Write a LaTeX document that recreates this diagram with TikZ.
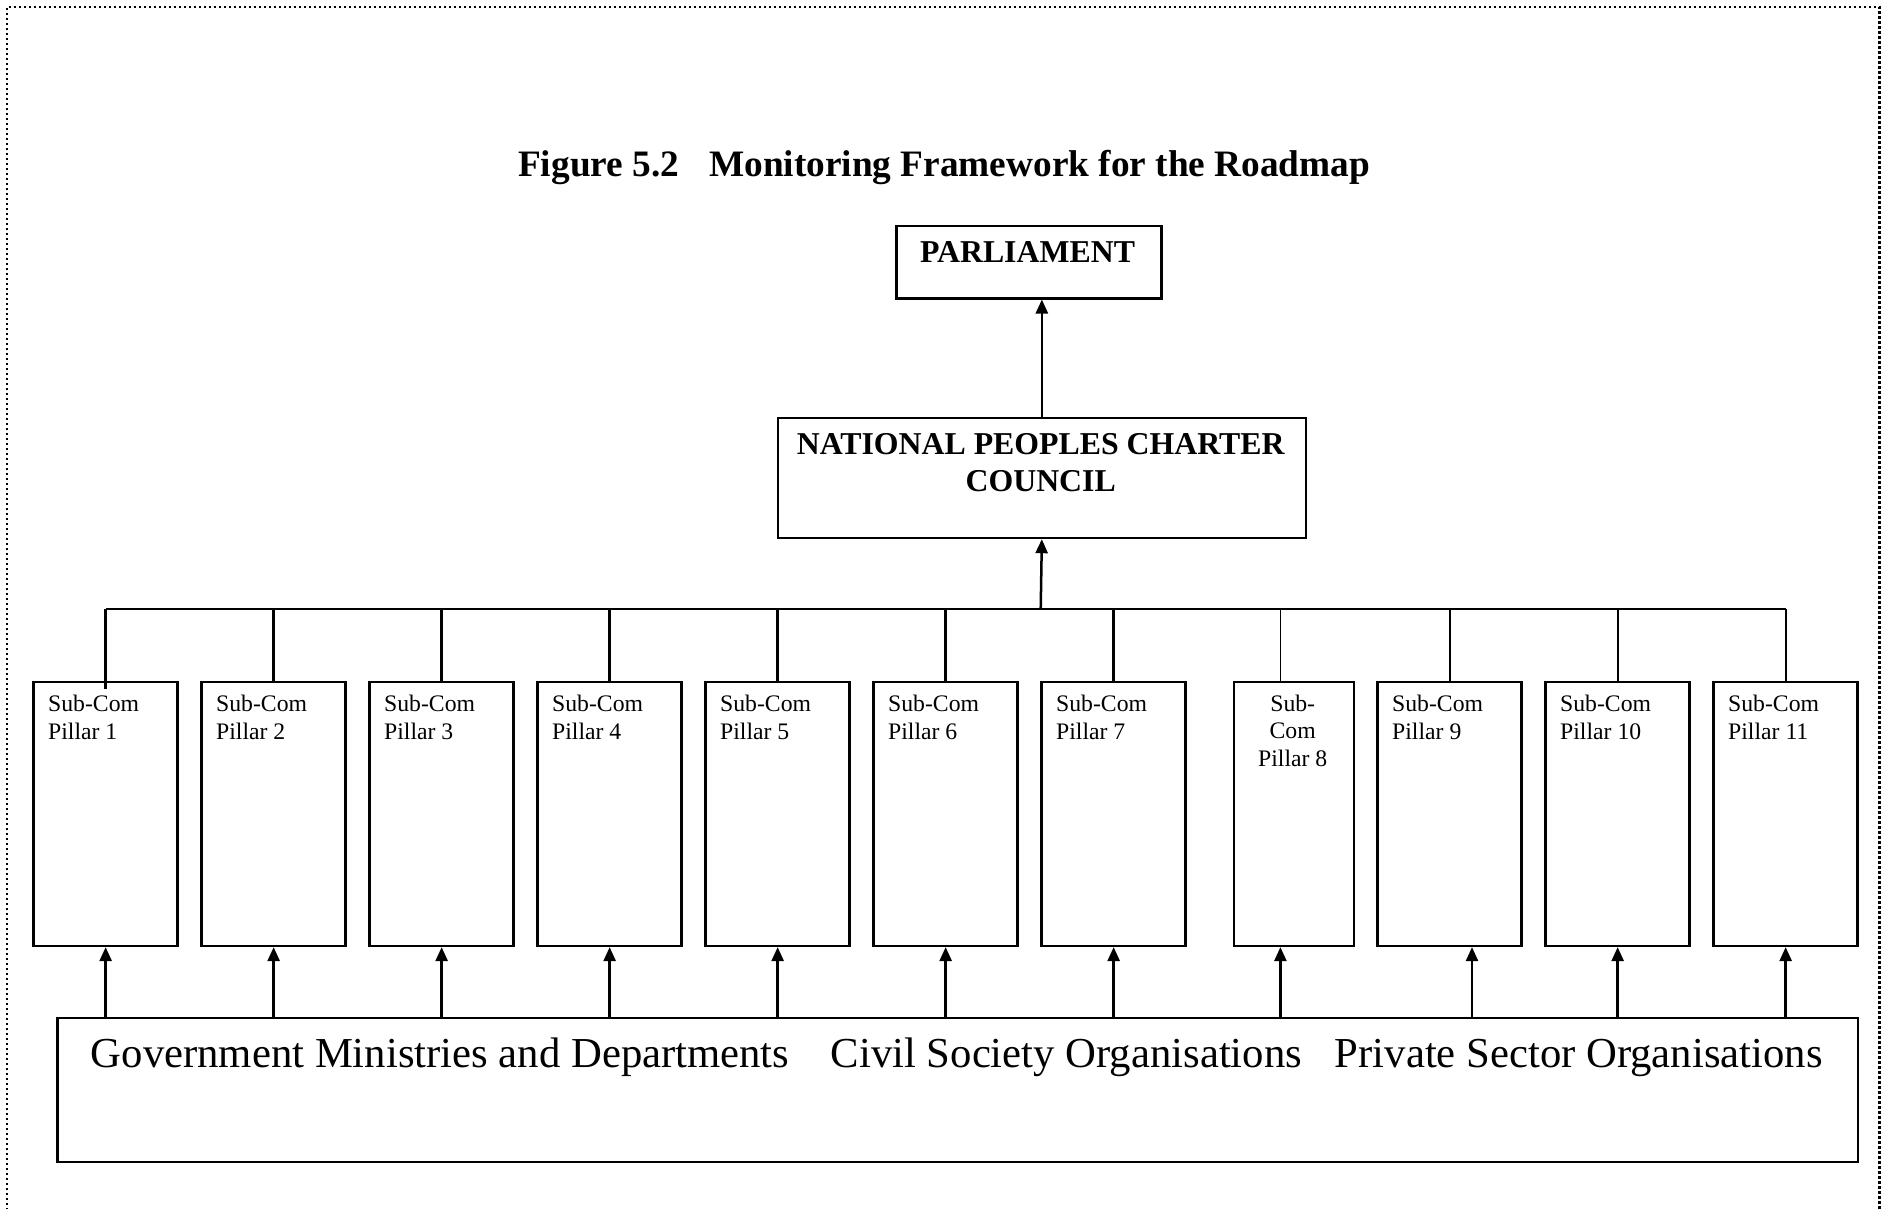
\documentclass[tikz,border=0pt]{standalone}
\usepackage{fontspec}
\setmainfont{Liberation Serif}
\usetikzlibrary{arrows.meta}
\begin{document}
\begin{tikzpicture}[x=1pt,y=-1pt,
  subbox/.style={draw,line width=2.5pt,rectangle,inner sep=0pt,anchor=north west,minimum width=144pt,minimum height=264pt},
  bigbox/.style={draw,line width=2.5pt,rectangle,inner sep=0pt,anchor=north west},
  conn/.style={line width=2.5pt},
  thinconn/.style={line width=1.8pt},
  arr/.style={line width=2.5pt,-{Triangle[length=14pt,width=12pt]}},
  subtxt/.style={font=\fontsize{23.7}{28}\selectfont,inner sep=0pt,anchor=base west},
  subtxtc/.style={font=\fontsize{23.7}{28}\selectfont,inner sep=0pt,anchor=base},
  headtxt/.style={font=\fontsize{31.8}{36.7}\selectfont\bfseries,inner sep=0pt,anchor=base},
  bottxt/.style={font=\fontsize{42.7}{50}\selectfont,inner sep=0pt,anchor=base west},
  border/.style={line width=2.4pt,dash pattern=on 2.2pt off 2.8pt}
]
\useasboundingbox (0,0) rectangle (1882,1209);
% dotted frame
\draw[border] (7,1215) -- (7,7) -- (1879.5,7) -- (1879.5,1215);

% title
\node[font=\fontsize{37.3}{43}\selectfont\bfseries,inner sep=0pt,anchor=base west] (title) at (518,177) {Figure 5.2\hspace{30pt}Monitoring Framework for the Roadmap};

% parliament
\node[bigbox,minimum width=265pt,minimum height=72pt] (parl) at (895,225) {};
\node[headtxt] (parltxt) at (1027.5,262) {PARLIAMENT};

% council
\node[bigbox,minimum width=528pt,minimum height=120pt] (npcc) at (776.6,416.7) {};
\node[headtxt] (npcc1) at (1040.7,454) {NATIONAL PEOPLES CHARTER};
\node[headtxt] (npcc2) at (1040.7,491.5) {COUNCIL};

\draw[arr] (npcc.north) -- (npcc.north |- parl.south);

% sub-committee boxes
\foreach \i/\x in {1/32.4,2/200.4,3/368.4,4/536.4,5/704.4,6/872.4,7/1040.4,9/1376.4,10/1544.4,11/1712.4} {
  \node[subbox] (s\i) at (\x,680.6) {};
  \node[subtxt] (sa\i) at (\x+15.6,711) {Sub-Com};
  \node[subtxt] (sb\i) at (\x+15.6,739) {Pillar \i};
}
\node[subbox,minimum width=120pt] (s8) at (1232.7,680.6) {};
\node[subtxtc] (sa8) at (1292.7,711) {Sub-};
\node[subtxtc] (sb8) at (1292.7,738.5) {Com};
\node[subtxtc] (sc8) at (1292.7,766) {Pillar 8};

% bus
\coordinate (bus) at (1040.7,609);
\coordinate (d8) at (1280.4,609);
\draw[arr] (bus) -- (npcc.south);
\draw[conn] (s1.north |- bus) -- (d8);
\draw[thinconn] (d8) -- (s11.north |- bus);
\draw[conn] ([yshift=-8pt]s1.north) -- (s1.north |- bus);
\foreach \i in {2,...,7} {
  \draw[conn] (s\i.north) -- (s\i.north |- bus);
}
\draw[thinconn] (d8) -- (d8 |- s8.north);
\foreach \i in {9,10,11} {
  \draw[thinconn] (s\i.north) -- (s\i.north |- bus);
}

% bottom box
\node[bigbox,line width=2.2pt,minimum width=1800.5pt,minimum height=144pt] (bot) at (56.4,1016.7) {};
\node[bottxt] (gov) at (90.7,1067) {Government Ministries and Departments};
\node[bottxt] (civ) at (830.6,1067) {Civil Society Organisations};
\node[bottxt] (priv) at (1334.7,1067) {Private Sector Organisations};

% upward arrows
\foreach \i in {1,...,7,10,11} {
  \draw[arr] (s\i.south |- bot.north) -- (s\i.south);
}
\draw[arr] (d8 |- bot.north) -- (d8 |- s8.south);
\coordinate (a9) at (1472,1016.7);
\draw[arr] (a9) -- (a9 |- s9.south);
\end{tikzpicture}
\end{document}
